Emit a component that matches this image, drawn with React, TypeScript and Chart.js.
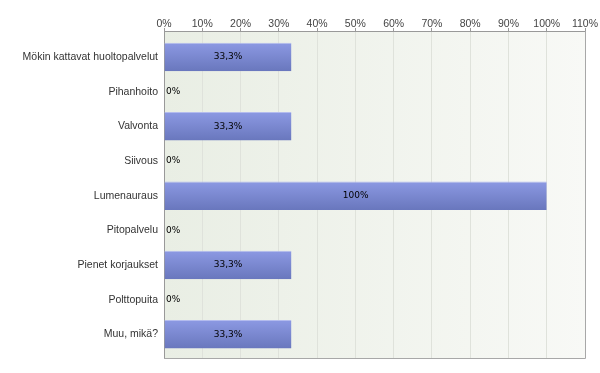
import React, { useEffect, useRef } from "react";
import { Chart, registerables } from "chart.js";

Chart.register(...registerables);

const categories: string[] = [
  "Mökin kattavat huoltopalvelut",
  "Pihanhoito",
  "Valvonta",
  "Siivous",
  "Lumenauraus",
  "Pitopalvelu",
  "Pienet korjaukset",
  "Polttopuita",
  "Muu, mikä?",
];
const percentValues: number[] = [33.3, 0, 33.3, 0, 100, 0, 33.3, 0, 33.3];
const xTickMax = 110;
const xTickStep = 10;

const fmt = (v: number) =>
  (Number.isInteger(v) ? String(v) : v.toFixed(1).replace(".", ",")) + "%";

const bgPlugin = {
  id: "plotBg",
  beforeDraw(chart: any) {
    const { ctx, chartArea: a } = chart;
    if (!a) return;
    const g = ctx.createLinearGradient(a.left, 0, a.right, 0);
    g.addColorStop(0, "#e9eee4");
    g.addColorStop(1, "#f8f9f6");
    ctx.save();
    ctx.fillStyle = g;
    ctx.fillRect(a.left, a.top, a.right - a.left, a.bottom - a.top);
    ctx.restore();
  },
  afterDraw(chart: any) {
    const { ctx, chartArea: a } = chart;
    ctx.save();
    ctx.strokeStyle = "#a8a8a8";
    ctx.lineWidth = 1;
    ctx.beginPath();
    ctx.moveTo(a.right + 0.5, a.top);
    ctx.lineTo(a.right + 0.5, a.bottom + 0.5);
    ctx.lineTo(a.left, a.bottom + 0.5);
    ctx.stroke();
    ctx.restore();
  },
};

const labelPlugin = {
  id: "barLabels",
  afterDatasetsDraw(chart: any) {
    const { ctx } = chart;
    const meta = chart.getDatasetMeta(0);
    ctx.save();
    ctx.font = '9px "DejaVu Sans"';
    ctx.fillStyle = "#000";
    ctx.textBaseline = "middle";
    meta.data.forEach((el: any, i: number) => {
      const v = percentValues[i];
      const t = fmt(v);
      if (v === 0) {
        ctx.textAlign = "left";
        ctx.fillText(t, el.base + 2, el.y);
      } else {
        ctx.textAlign = "center";
        ctx.fillText(t, (el.x + el.base) / 2, el.y);
      }
    });
    ctx.restore();
  },
};

export default function App() {
  const ref = useRef<HTMLCanvasElement | null>(null);
  useEffect(() => {
    document.body.style.margin = "0";
    const canvas = ref.current!;
    const halfBar = 14.25;
    const chart = new Chart(canvas, {
      type: "bar",
      data: {
        datasets: [
          {
            data: percentValues.map((v, i) => ({ x: v, y: i })),
            backgroundColor: (c: any) => {
              const ch = c.chart;
              if (!ch.chartArea || c.type !== "data" || !ch.scales.y) return "#7a87d0";
              const y = ch.scales.y.getPixelForValue(c.dataIndex);
              const g = ch.ctx.createLinearGradient(0, y - halfBar, 0, y + halfBar);
              g.addColorStop(0, "#8c99e3");
              g.addColorStop(1, "#6977bd");
              return g;
            },
            borderColor: "#b4bcee",
            borderWidth: { top: 1, left: 0, right: 0, bottom: 0 },
            borderSkipped: false,
            categoryPercentage: 1,
            barPercentage: 0.822,
          } as any,
        ],
      },
      options: {
        indexAxis: "y",
        animation: false,
        responsive: true,
        maintainAspectRatio: false,
        layout: { padding: { left: 0, top: 0, right: 15, bottom: 15 } },
        plugins: { legend: { display: false }, tooltip: { enabled: false } },
        scales: {
          x: {
            type: "linear",
            position: "top",
            min: 0,
            max: xTickMax,
            ticks: {
              stepSize: xTickStep,
              callback: (v: any) => v + "%",
              color: "#444",
              font: { family: '"Liberation Sans", Arial', size: 10.5 },
              padding: -2,
              maxRotation: 0,
            },
            grid: { color: "#dfe2db", tickColor: "#999", tickLength: 3, drawTicks: true },
            border: { display: true, color: "#999" },
            afterFit: (s: any) => {
              s.height = 31;
            },
          },
          y: {
            type: "linear",
            reverse: true,
            offset: false,
            min: -0.75,
            max: 8.684,
            ticks: {
              stepSize: 1,
              includeBounds: false,
              autoSkip: false,
              callback: (v: any) => (Number.isInteger(v) && categories[v] ? categories[v] : ""),
              color: "#333",
              font: { family: '"Liberation Sans", Arial', size: 10.5 },
              padding: 6,
            },
            grid: { display: false, drawTicks: false, offset: false },
            border: { display: true, color: "#999" },
            afterFit: (s: any) => {
              s.width = 164;
            },
          },
        },
      } as any,
      plugins: [bgPlugin, labelPlugin],
    });
    return () => chart.destroy();
  }, []);
  return (
    <div style={{ position: "relative", width: 600, height: 373 }}>
      <canvas ref={ref} />
    </div>
  );
}
